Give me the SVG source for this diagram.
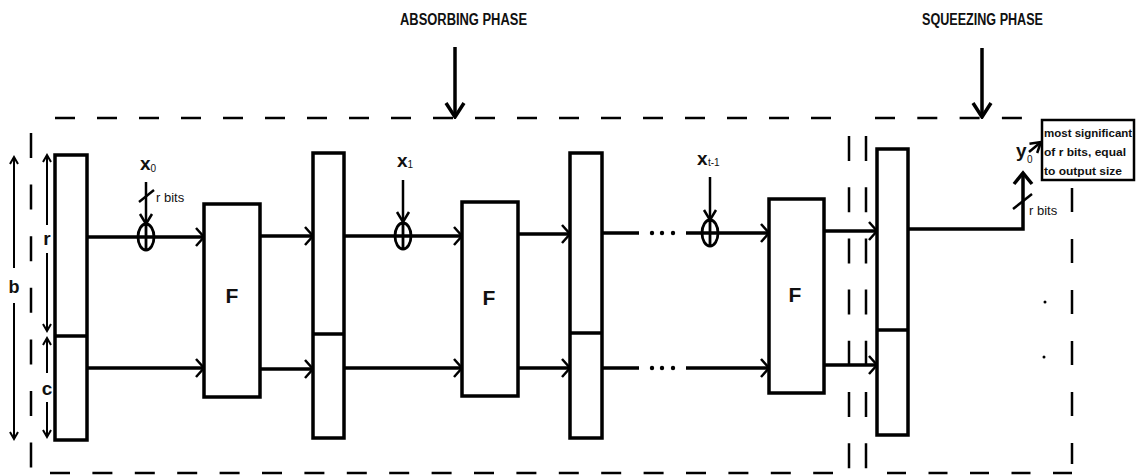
<svg xmlns="http://www.w3.org/2000/svg" width="1136" height="476" viewBox="0 0 1136 476">
<style>
.box{fill:#fff;stroke:#000;stroke-width:3.5}
.ln{fill:none;stroke:#000;stroke-width:3.5}
.in{fill:none;stroke:#000;stroke-width:2.5}
.dim{fill:none;stroke:#000;stroke-width:2}
.dash{fill:none;stroke:#000;stroke-width:2.5}
.xor{fill:none;stroke:#000;stroke-width:2.8}
.lbl{font-family:"Liberation Sans",Arial,sans-serif;font-weight:bold;fill:#111}
.sm{font-family:"Liberation Sans",Arial,sans-serif;fill:#111;font-size:13px}
.dot{fill:#000}
</style>
<defs>
<marker id="ah" markerUnits="userSpaceOnUse" markerWidth="14" markerHeight="20" viewBox="0 0 14 20" refX="11" refY="10" orient="auto"><path d="M3,1 L11,10 L3,19" fill="none" stroke="#000" stroke-width="2.5"/></marker>
<marker id="ah2" markerUnits="userSpaceOnUse" markerWidth="14" markerHeight="16" viewBox="0 0 14 16" refX="12" refY="8" orient="auto"><path d="M2,2 L12,8 L2,14" fill="none" stroke="#000" stroke-width="2.5"/></marker>
<marker id="ah3" markerUnits="userSpaceOnUse" markerWidth="18" markerHeight="22" viewBox="0 0 18 22" refX="16" refY="11" orient="auto"><path d="M2,2 L16,11 L2,20" fill="none" stroke="#000" stroke-width="3.5"/></marker>
<marker id="ah4" markerUnits="userSpaceOnUse" markerWidth="10" markerHeight="10" viewBox="0 0 10 10" refX="8" refY="5" orient="auto-start-reverse"><path d="M1,1 L8,5 L1,9" fill="none" stroke="#000" stroke-width="2"/></marker>
<marker id="ah5" markerUnits="userSpaceOnUse" markerWidth="16" markerHeight="22" viewBox="0 0 16 22" refX="13" refY="11" orient="auto"><path d="M2,2 L13,11 L2,20" fill="none" stroke="#000" stroke-width="3.5"/></marker>
</defs>
<rect width="1136" height="476" fill="#fff"/>

<g id="frames">
<path class="dash" d="M55,118 H831" stroke-dasharray="20 22"/>
<path class="dash" d="M875,118 H1022" stroke-dasharray="20 22.3"/>
<path class="dash" d="M50,473 H833" stroke-dasharray="20 22.4" stroke-width="4"/>
<path class="dash" d="M887,473 H1073" stroke-dasharray="19 22.5" stroke-width="4"/>
<path class="dash" d="M31,133 V472" stroke-dasharray="25 26.6"/>
<path class="dash" d="M849,136 V472" stroke-dasharray="25 26.2"/>
<path class="dash" d="M866,136 V472" stroke-dasharray="25 26.2"/>
<path class="dash" d="M1072,188 V464" stroke-dasharray="24 27"/>
</g>

<g id="phase-labels">
<text class="lbl" x="400" y="25" font-size="16" textLength="127" lengthAdjust="spacingAndGlyphs">ABSORBING PHASE</text>
<text class="lbl" x="922" y="25" font-size="16" textLength="121" lengthAdjust="spacingAndGlyphs">SQUEEZING PHASE</text>
</g>

<g id="dimensions">
<path class="dim" d="M14,157 V268" marker-start="url(#ah4)"/>
<path class="dim" d="M14,303 V439" marker-end="url(#ah4)"/>
<path class="dim" d="M47,155 V225" marker-start="url(#ah4)"/>
<path class="dim" d="M47,253 V331" marker-end="url(#ah4)"/>
<path class="dim" d="M47,338 V373" marker-start="url(#ah4)"/>
<path class="dim" d="M47,402 V437" marker-end="url(#ah4)"/>
<text class="lbl" x="14" y="293" font-size="18" text-anchor="middle">b</text>
<text class="lbl" x="47" y="245" font-size="19" text-anchor="middle">r</text>
<text class="lbl" x="47" y="395" font-size="19" text-anchor="middle">c</text>
</g>

<g id="connectors">
<path class="ln" d="M455,47 V117" marker-end="url(#ah3)"/>
<path class="ln" d="M982,48 V117" marker-end="url(#ah3)"/>
<path class="ln" d="M87,237 H204" marker-end="url(#ah)"/>
<path class="ln" d="M87,368 H204" marker-end="url(#ah)"/>
<path class="ln" d="M260,236 H313" marker-end="url(#ah)"/>
<path class="ln" d="M260,369 H313" marker-end="url(#ah)"/>
<path class="ln" d="M344,236 H462" marker-end="url(#ah)"/>
<path class="ln" d="M344,368 H462" marker-end="url(#ah)"/>
<path class="ln" d="M518,234 H570" marker-end="url(#ah)"/>
<path class="ln" d="M518,368 H570" marker-end="url(#ah)"/>
<path class="ln" d="M602,233 H639"/>
<path class="ln" d="M686,233 H769" marker-end="url(#ah)"/>
<path class="ln" d="M602,368 H639"/>
<path class="ln" d="M686,368 H769" marker-end="url(#ah)"/>
<path class="ln" d="M824,231 H877" marker-end="url(#ah)"/>
<path class="ln" d="M824,365 H877" marker-end="url(#ah)"/>
<path class="ln" d="M908,229 H1023 V173" marker-end="url(#ah5)"/>
<path class="in" d="M1029,152 L1041,142" marker-end="url(#ah2)"/>
<path class="in" d="M146,182 V224" marker-end="url(#ah2)"/>
<path class="in" d="M403,180 V222" marker-end="url(#ah2)"/>
<path class="in" d="M710,177 V220" marker-end="url(#ah2)"/>
<path class="in" d="M139,202 L154,190"/>
<path class="in" d="M1013,209 L1032,194"/>
<circle class="dot" cx="652" cy="233" r="2.2"/>
<circle class="dot" cx="662" cy="233" r="2.2"/>
<circle class="dot" cx="673" cy="233" r="2.2"/>
<circle class="dot" cx="652" cy="368" r="2.2"/>
<circle class="dot" cx="662" cy="368" r="2.2"/>
<circle class="dot" cx="673" cy="368" r="2.2"/>
<circle class="dot" cx="1045" cy="302" r="1.5"/>
<circle class="dot" cx="1044" cy="357" r="1.5"/>
</g>

<g id="state0">
<rect class="box" x="55" y="155" width="32" height="285"/>
<path class="box" d="M55,336 H87"/>
</g>
<g id="state1">
<rect class="box" x="313" y="153" width="31" height="285"/>
<path class="box" d="M313,334 H344"/>
</g>
<g id="state2">
<rect class="box" x="570" y="153" width="32" height="285"/>
<path class="box" d="M570,333 H602"/>
</g>
<g id="state3">
<rect class="box" x="877" y="149" width="31" height="286"/>
<path class="box" d="M877,330 H908"/>
</g>

<g id="f1">
<rect class="box" x="204" y="204" width="56" height="193"/>
<text class="lbl" x="232" y="303" font-size="21" text-anchor="middle">F</text>
</g>
<g id="f2">
<rect class="box" x="462" y="202" width="56" height="194"/>
<text class="lbl" x="489" y="305" font-size="21" text-anchor="middle">F</text>
</g>
<g id="f3">
<rect class="box" x="769" y="199" width="55" height="194"/>
<text class="lbl" x="795" y="302" font-size="21" text-anchor="middle">F</text>
</g>

<g id="xor1">
<ellipse class="xor" cx="146" cy="237" rx="8" ry="13"/>
<path class="xor" d="M146,224 V250"/>
</g>
<g id="xor2">
<ellipse class="xor" cx="403" cy="236" rx="8" ry="13"/>
<path class="xor" d="M403,223 V249"/>
</g>
<g id="xor3">
<ellipse class="xor" cx="710" cy="233" rx="8" ry="13"/>
<path class="xor" d="M710,220 V246"/>
</g>

<g id="inputs">
<text class="lbl" x="140" y="170" font-size="19">x<tspan font-size="10" font-weight="normal" dy="2">0</tspan></text>
<text class="sm" x="156" y="202">r bits</text>
<text class="lbl" x="397" y="167" font-size="19">x<tspan font-size="10" font-weight="normal" dy="1">1</tspan></text>
<text class="lbl" x="697" y="165" font-size="19">x<tspan x="708" font-size="10" font-weight="normal" dy="1">t-1</tspan></text>
</g>

<g id="output">
<text class="lbl" x="1016" y="157" font-size="19">y<tspan x="1027" font-size="10" font-weight="normal" dy="6">0</tspan></text>
<text class="sm" x="1029" y="215">r bits</text>
</g>

<g id="note">
<rect x="1042" y="120" width="92" height="60" fill="#fff" stroke="#000" stroke-width="2.5"/>
<text class="lbl" x="1044" y="137" font-size="11.5">most significant</text>
<text class="lbl" x="1044" y="156" font-size="11.5" textLength="82" lengthAdjust="spacingAndGlyphs">of r bits, equal</text>
<text class="lbl" x="1044" y="175" font-size="11.5" textLength="78" lengthAdjust="spacingAndGlyphs">to output size</text>
</g>
</svg>
